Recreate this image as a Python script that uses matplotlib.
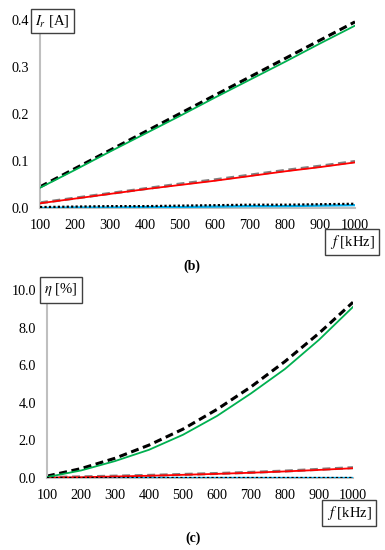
import numpy as np
import matplotlib
matplotlib.use("Agg")
import matplotlib.pyplot as plt

# ----------------------------
# DATA
# ----------------------------
freq_khz = [100, 200, 300, 400, 500, 600, 700, 800, 900, 1000]

# (b) current I_r [A]
ir_black_dash = [0.045, 0.084, 0.123, 0.162, 0.201, 0.240, 0.279, 0.318, 0.357, 0.396]
ir_green = [0.043, 0.081, 0.120, 0.158, 0.196, 0.235, 0.273, 0.311, 0.350, 0.388]
ir_gray_dash = [0.011, 0.021, 0.031, 0.041, 0.051, 0.060, 0.070, 0.080, 0.089, 0.099]
ir_red = [0.010, 0.020, 0.030, 0.040, 0.049, 0.058, 0.068, 0.078, 0.087, 0.097]
ir_black_dot = [0.002, 0.003, 0.004, 0.004, 0.005, 0.006, 0.007, 0.007, 0.008, 0.009]
ir_blue = [0.000, 0.001, 0.001, 0.002, 0.002, 0.003, 0.004, 0.004, 0.005, 0.006]

# (c) efficiency eta [%]
eta_black_dash = [0.10, 0.50, 1.05, 1.75, 2.60, 3.65, 4.85, 6.20, 7.70, 9.35]
eta_green = [0.05, 0.40, 0.90, 1.50, 2.30, 3.30, 4.50, 5.80, 7.35, 9.10]
eta_gray_dash = [0.03, 0.06, 0.10, 0.14, 0.19, 0.24, 0.30, 0.37, 0.46, 0.55]
eta_red = [0.02, 0.04, 0.08, 0.12, 0.17, 0.22, 0.28, 0.35, 0.43, 0.52]
eta_black_dot = [0.01, 0.01, 0.01, 0.01, 0.01, 0.01, 0.01, 0.01, 0.01, 0.01]
eta_blue = [0.00, 0.00, 0.00, 0.00, 0.00, 0.00, 0.00, 0.00, 0.00, 0.00]

plt.rcParams['font.family'] = ['Liberation Serif', 'DejaVu Serif']
plt.rcParams['mathtext.fontset'] = 'stix'

GREEN = '#00b050'
RED = '#ff0000'
GRAY = '#808080'
BLUE = '#00b0f0'
SPINE = '#bfbfbf'
FS = 10.2

W, H = 385.0, 550.0


def draw_panel(ax, series, ylim, yticks, ylabel, ylab_xy, flab_xy):
    dash_black, green, dash_gray, red, dot_black, blue = series
    ax.plot(freq_khz, blue, color=BLUE, lw=1.6, zorder=3)
    ax.plot(freq_khz, dot_black, color='black', lw=1.6, ls=(0, (1, 1)), zorder=4)
    ax.plot(freq_khz, red, color=RED, lw=1.3, zorder=3)
    ax.plot(freq_khz, dash_gray, color=GRAY, lw=2.2, ls=(0, (2.6, 1.5)), zorder=2)
    ax.plot(freq_khz, green, color=GREEN, lw=1.3, zorder=3)
    ax.plot(freq_khz, dash_black, color='black', lw=2.2, ls=(0, (2.6, 1.5)), zorder=2)

    ax.set_xlim(100, 1000)
    ax.set_ylim(*ylim)
    ax.set_xticks(freq_khz)
    ax.set_yticks(yticks)
    ax.set_yticklabels(['{:.1f}'.format(v) for v in yticks])
    ax.tick_params(length=0, labelsize=FS, pad=8)
    for s in ['top', 'right']:
        ax.spines[s].set_visible(False)
    for s in ['left', 'bottom']:
        ax.spines[s].set_color(SPINE)
        ax.spines[s].set_linewidth(1.5)

    # boxed axis labels, placed in figure pixels
    box = dict(boxstyle='square,pad=0.3', fc='white', ec='#404040', lw=1.0)
    fig = ax.figure
    fig.text(ylab_xy[0] / W, 1 - ylab_xy[1] / H, ylabel, fontsize=10.5,
             ha='center', va='center', bbox=box, zorder=10)
    fig.text(flab_xy[0] / W, 1 - flab_xy[1] / H, r'$f$ [kHz]', fontsize=10.5,
             ha='center', va='center', bbox=box, zorder=10)


fig = plt.figure(figsize=(3.85, 5.5), dpi=100)

ax1 = fig.add_axes([40 / W, 1 - 208 / H, 315 / W, 188 / H])
draw_panel(ax1, [ir_black_dash, ir_green, ir_gray_dash, ir_red, ir_black_dot, ir_blue],
           (0, 0.4), [0.0, 0.1, 0.2, 0.3, 0.4], r'$I_r$ [A]', (52.5, 21), (352, 242))

ax2 = fig.add_axes([47 / W, 1 - 478 / H, 306 / W, 188 / H])
draw_panel(ax2, [eta_black_dash, eta_green, eta_gray_dash, eta_red, eta_black_dot, eta_blue],
           (0, 10), [0.0, 2.0, 4.0, 6.0, 8.0, 10.0], r'$\eta$ [%]', (61, 290), (349, 513))

fig.text(192 / W, 1 - 266 / H, '(b)', fontsize=10, fontweight='bold', ha='center', va='center')
fig.text(193 / W, 1 - 538 / H, '(c)', fontsize=10, fontweight='bold', ha='center', va='center')

fig.savefig('out.png', dpi=100)
